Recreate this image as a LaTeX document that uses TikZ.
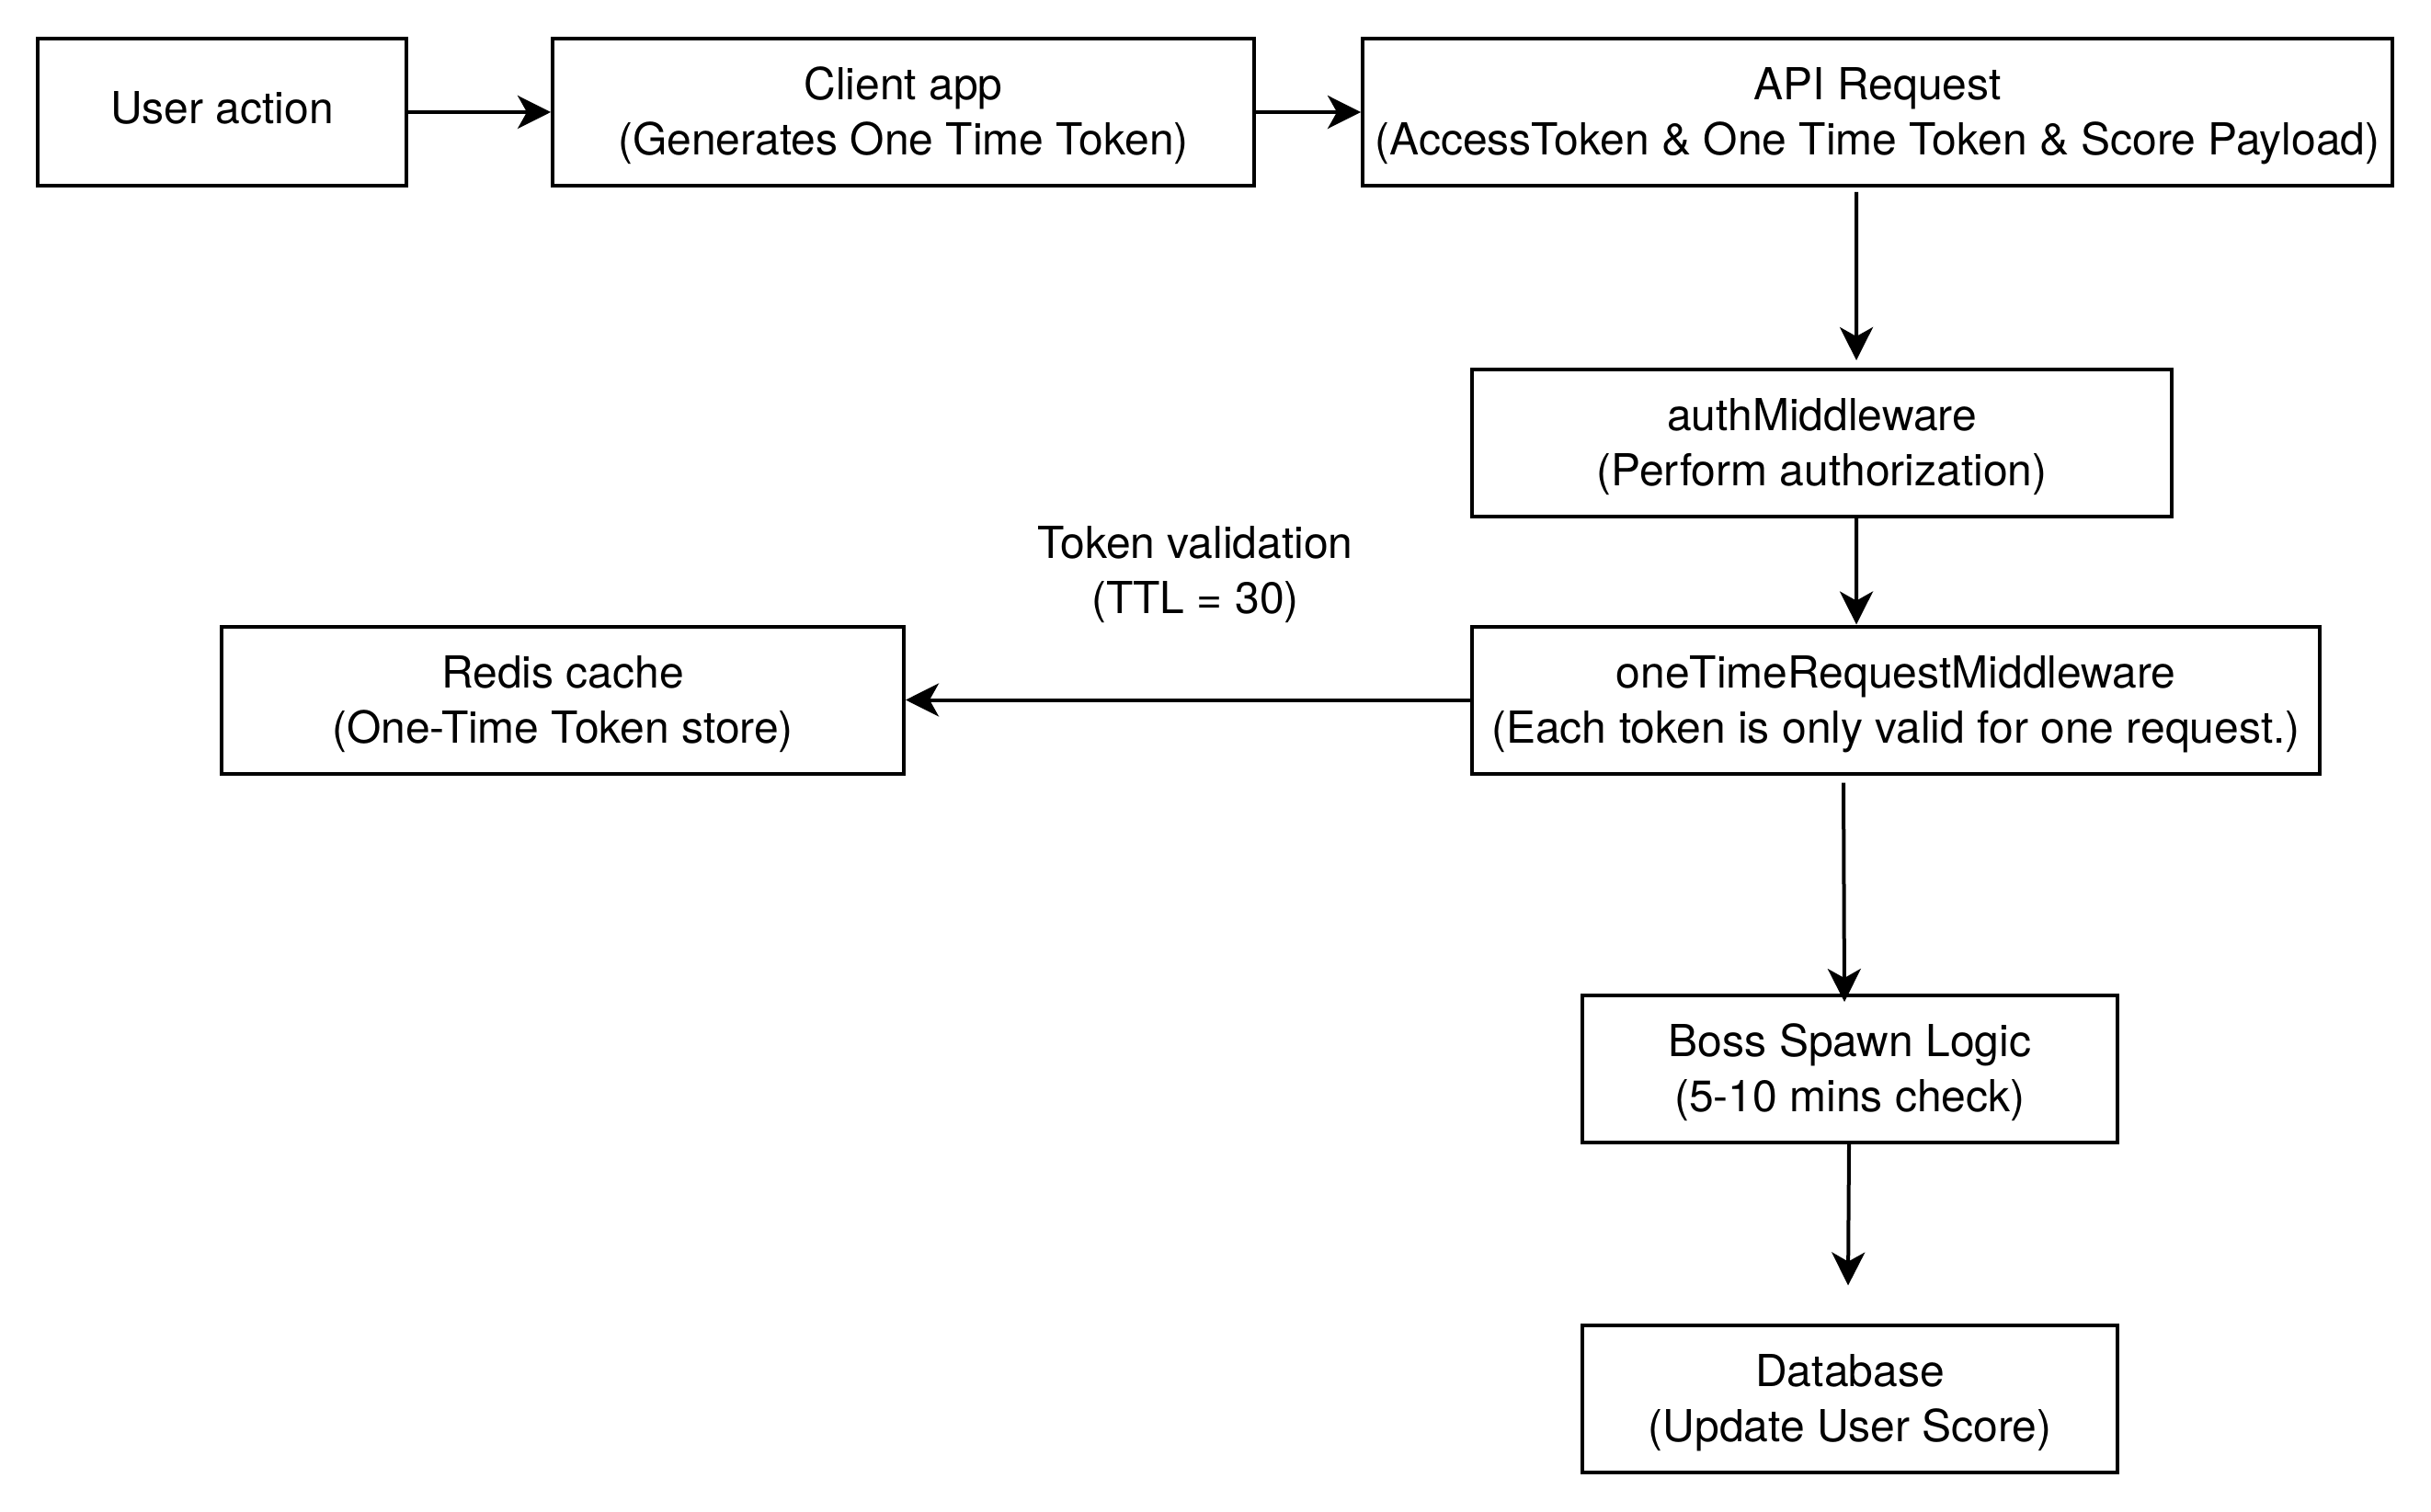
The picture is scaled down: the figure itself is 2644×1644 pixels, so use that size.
\documentclass[tikz,border=0pt]{standalone}
\usepackage{fontspec}
\setmainfont{TeX Gyre Heros}
\usetikzlibrary{arrows.meta,calc}
\begin{document}
\begin{tikzpicture}[x=0.3pt,y=-0.3pt,
  box/.style={draw,line width=1.2pt,inner sep=0pt,align=center,minimum height=48pt,
    font=\fontsize{14.4pt}{18pt}\selectfont},
  one/.style={text height=10.8pt,text depth=3pt},
  two/.style={text height=30.9pt,text depth=3pt},
  arr/.style={line width=1.2pt,-{Stealth[length=10.8pt,width=10.8pt,inset=3pt]}},
  lbl/.style={align=center,inner sep=0pt,font=\fontsize{14.4pt}{18pt}\selectfont}]
\useasboundingbox (0,0) rectangle (2644,1644);
\node[box,one,minimum width=120.3pt] (user) at (241.5,122) {User action};
\node[box,two,minimum width=228.9pt] (client) at (982.5,122) {Client app\\(Generates One Time Token)};
\node[box,two,minimum width=336pt] (api) at (2042,122) {API Request\\(AccessToken \& One Time Token \& Score Payload)};
\node[box,two,minimum width=228.3pt] (auth) at (1981.5,482) {authMiddleware\\(Perform authorization)};
\node[box,two,minimum width=276.6pt] (onetime) at (2062,761.5) {oneTimeRequestMiddleware\\(Each token is only valid for one request.)};
\node[box,two,minimum width=222.6pt] (redis) at (612,762) {Redis cache\\(One-Time Token store)};
\node[box,two,minimum width=174.6pt] (boss) at (2012,1163) {Boss Spawn Logic\\(5-10 mins check)};
\node[box,two,minimum width=174.6pt] (db) at (2012,1521.5) {Database\\(Update User Score)};
\node[lbl,two] (tv) at (1300,620.5) {Token validation\\(TTL = 30)};
\draw[arr] (user.east) -- (client.west);
\draw[arr] (client.east) -- (api.west);
\draw[arr] ($(api.south)+(-23,5)$) -- ($(auth.north)+(37.5,-8)$);
\draw[arr] ($(auth.south)+(37.5,0)$) -- ($(onetime.north)+(-43,0)$);
\draw[arr] (onetime.west) -- (onetime.west -| redis.east);
\draw[arr] ($(onetime.south)+(-57,8)$) -- ($(boss.north)+(-6,9)$);
\draw[arr] ($(boss.south)+(-1,0)$) -- ($(db.north)+(-2,-41)$);
\end{tikzpicture}
\end{document}
